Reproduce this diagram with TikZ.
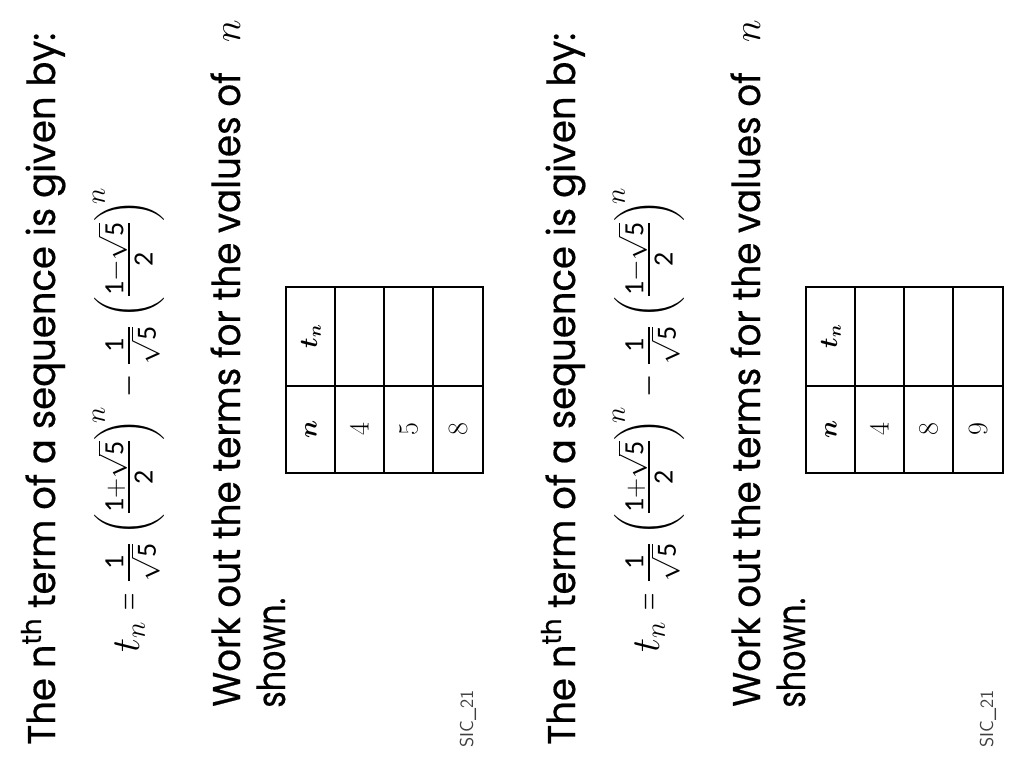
\RequirePackage{fix-cm}
\documentclass[tikz,border=0pt]{standalone}
\usepackage{amsmath}
\usepackage[no-math]{fontspec}
\setmainfont{Poppins}[FakeBold=0.5]
\newfontfamily\carl{Carlito}
\usepackage{graphicx}
\newcommand\cd[1]{\text{\carl #1}}
\newsavebox\formbox
\newsavebox\tmpbox
\newlength\formwd
\newlength\tmplen
\newcommand\titlefs{\fontsize{29}{34}\selectfont}
\newcommand\fitto[2]{\sbox\tmpbox{\titlefs #2}\setlength\tmplen{\wd\tmpbox}\pgfmathsetmacro\tmpf{#1/\tmplen}\scalebox{\tmpf}[1]{\usebox\tmpbox}}
\newcommand\eqsign{\mathrel{\scalebox{0.6}[1]{$=$}}}
\newcommand\minsign{\mathbin{\scalebox{0.75}[1]{$-$}}}
\newcommand\formula{$t_n \eqsign \frac{\cd{1}}{\sqrt{\cd{5}}}\left(\frac{\cd{1}+\sqrt{\cd{5}}}{\cd{2}}\right)^{\!n} \minsign \frac{\cd{1}}{\sqrt{\cd{5}}}\left(\frac{\cd{1}-\sqrt{\cd{5}}}{\cd{2}}\right)^{\!n}$}
\tikzset{
  txt/.style={inner sep=0pt, rotate=90, anchor=base west},
  cell/.style={inner sep=0pt, rotate=90, anchor=center},
  grid/.style={line width=1.1pt, black},
}
\newcommand\panel[4]{%
  \node[txt] (#1title) at (55,745) {\fitto{534}{The n\textsuperscript{th} term of a sequence is given by:}};
  \node[txt] (#1form) at (139,653) {\scalebox{\ff}{\usebox\formbox}};
  \node[txt] (#1work) at (240,707) {\fitto{476}{Work out the terms for the values of}};
  \node[inner sep=0pt, rotate=90, anchor=base east] (#1n) at (240,20) {\fontsize{29}{34}\selectfont$n$};
  \node[txt] (#1shown) at (285,708) {\fitto{82.5}{shown.}};
  \node[txt, text=black!75] (#1code) at (473,748) {\fontsize{14}{17}\sffamily SIC\_21};
  \draw[grid] (286,287) rectangle (483,473);
  \draw[grid] (286,386) -- (483,386);
  \foreach \xx in {335,384,433} \draw[grid] (\xx,287) -- (\xx,473);
  \node[cell] (#1hn) at (311,429.5) {\fontsize{19}{22}\selectfont$\boldsymbol{n}$};
  \node[cell] (#1ht) at (311,336.5) {\fontsize{19}{22}\selectfont$\boldsymbol{t_n}$};
  \node[cell] (#1a) at (359.5,429.5) {\fontsize{21}{24}\selectfont$#2$};
  \node[cell] (#1b) at (408.5,429.5) {\fontsize{21}{24}\selectfont$#3$};
  \node[cell] (#1c) at (458,429.5) {\fontsize{21}{24}\selectfont$#4$};
}
\begin{document}
\sbox\formbox{\fontsize{34}{40}\selectfont\formula}%
\setlength\formwd{\wd\formbox}%
\pgfmathsetmacro\ff{348.75/\formwd}%
\begin{tikzpicture}[x=0.75pt,y=-0.75pt]
\fill[white] (0,0) rectangle (1024,768);
\useasboundingbox (0,0) rectangle (1024,768);
\begin{scope}
\panel{p}{4}{5}{8}
\end{scope}
\begin{scope}[xshift=390pt]
\panel{q}{4}{8}{9}
\end{scope}
\end{tikzpicture}
\end{document}
